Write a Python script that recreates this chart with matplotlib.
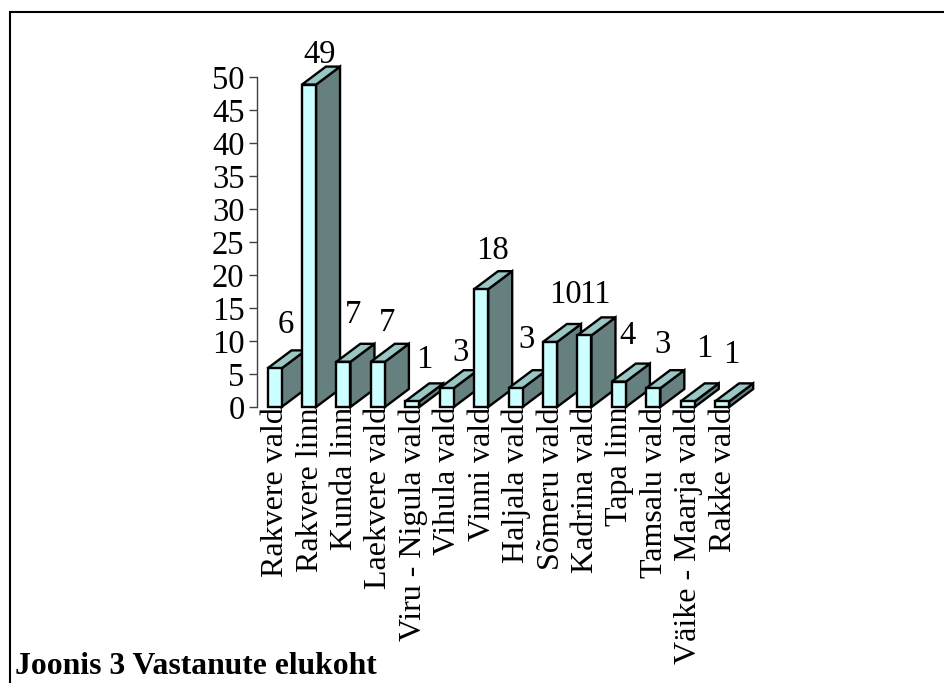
import matplotlib
matplotlib.use("Agg")
import matplotlib.pyplot as plt
from matplotlib.lines import Line2D
from matplotlib.patches import Polygon

plt.rcParams['font.family'] = ['Liberation Serif', 'DejaVu Serif']

places = ["Rakvere vald", "Rakvere linn", "Kunda linn", "Laekvere vald",
          "Viru - Nigula vald", "Vihula vald", "Vinni vald", "Haljala vald",
          "Sõmeru vald", "Kadrina vald", "Tapa linn", "Tamsalu vald",
          "Väike - Maarja vald", "Rakke vald"]
counts = [6, 49, 7, 7, 1, 3, 18, 3, 10, 11, 4, 3, 1, 1]
y_ticks = [0, 5, 10, 15, 20, 25, 30, 35, 40, 45, 50]
caption = "Joonis 3 Vastanute elukoht"

# value label nudges in pixels, measured from bar centre / bar top
label_dx = [12, 11, 10, 9.5, 12, 14, 12, 11, 16, 11, 9.5, 10, 17, 10]
label_dy = [34, 21, 38, 30, 32, 26, 29, 39, 38, 31, 37, 34, 43, 37]

W, H = 944, 683
font_size = 23.5
front_color = "#CCFFFF"
top_color = "#99C8C4"
side_color = "#668080"

# axes box in pixels
left, right = 257, 739
bottom, top = 407, 77

fig = plt.figure(figsize=(W / 100, H / 100), dpi=100)
# only the top and left edges of the frame are in the picture
fig.add_artist(Line2D([10 / W, 10 / W, 1], [0, 1 - 12 / H, 1 - 12 / H], transform=fig.transFigure,
                      color="black", linewidth=1.5, solid_joinstyle="miter"))

ax = fig.add_axes([left / W, 1 - bottom / H, (right - left) / W, (bottom - top) / H])
ax.set_xlim(0, len(places))
ax.set_ylim(0, 50)

bar_w = 0.41
depth_x = 24 / ((right - left) / len(places))
depth_y = 18 / ((bottom - top) / 50)
top_drop = 0.15  # bar tops sit a touch under the tick level

for i, v in enumerate(counts):
    x0 = i + 0.51 - bar_w / 2
    x1 = x0 + bar_w
    h = v - top_drop
    side = [(x1, 0), (x1 + depth_x, depth_y), (x1 + depth_x, h + depth_y), (x1, h)]
    roof = [(x0, h), (x1, h), (x1 + depth_x, h + depth_y), (x0 + depth_x, h + depth_y)]
    front = [(x0, 0), (x1, 0), (x1, h), (x0, h)]
    for pts, col in [(side, side_color), (roof, top_color), (front, front_color)]:
        ax.add_patch(Polygon(pts, closed=True, facecolor=col, edgecolor="black",
                             linewidth=1.7, clip_on=False, joinstyle="miter"))
    ax.annotate(str(v), (i + 0.5, v), xytext=(label_dx[i], label_dy[i]),
                textcoords="offset pixels", ha="center", va="baseline",
                fontsize=font_size, annotation_clip=False)

for s in ["top", "right", "bottom"]:
    ax.spines[s].set_visible(False)
ax.spines["left"].set_color("#404040")
ax.spines["left"].set_linewidth(1)
ax.patch.set_visible(False)

ax.set_yticks(y_ticks)
ax.tick_params(axis="y", length=6, width=1, color="#404040", labelsize=font_size, pad=3)

ax.set_xticks([i + 0.76 for i in range(len(places))])
ax.set_xticklabels(places)
ax.tick_params(axis="x", length=0, pad=0)
for lab in ax.get_xticklabels():
    lab.set(rotation=90, rotation_mode="anchor", ha="right", va="baseline", fontsize=23)

fig.text(15 / W, 1 - 674 / H, caption, fontsize=22.8, fontweight="bold", ha="left", va="baseline")

fig.savefig("out.png", dpi=100)
